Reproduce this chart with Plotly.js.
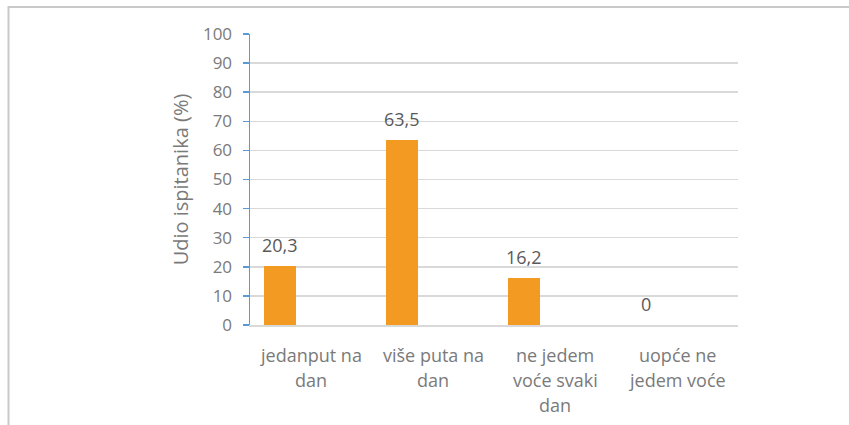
<!DOCTYPE html>
<html>
<head>
<meta charset="utf-8">
<script src="https://cdn.plot.ly/plotly-3.0.1.min.js"></script>
<style>
  html, body { margin: 0; padding: 0; background: #fff; }
  #chart { width: 849px; height: 425px; }
</style>
</head>
<body>
<div id="chart"></div>
<script>
// ---- data ----
const categories = ['jedanput na dan', 'više puta na dan', 'ne jedem voće svaki dan', 'uopće ne jedem voće'];
const tickLines = [
  ['jedanput na', 'dan'],
  ['više puta na', 'dan'],
  ['ne jedem', 'voće svaki', 'dan'],
  ['uopće ne', 'jedem voće']
];
const values = [20.3, 63.5, 16.2, 0];
const valueLabels = ['20,3', '63,5', '16,2', '0'];
const yTitle = 'Udio ispitanika (%)';

// ---- layout constants ----
const FONT = '"Open Sans", sans-serif';
const barWidth = 0.262;
const barOffset = -0.385;
const W = 849, H = 425;
const mL = 250, mR = 111, mT = 34, mB = 100;
const plotW = W - mL - mR, plotH = H - mT - mB;

const idx = categories.map((_, i) => i);

const trace = {
  type: 'bar',
  x: idx,
  y: values,
  width: barWidth,
  offset: barOffset,
  marker: { color: '#F29A21' },
  hoverinfo: 'skip',
  showlegend: false
};

const annotations = [];
// data labels
values.forEach((v, i) => {
  annotations.push({
    x: i + barOffset + barWidth / 2, y: v, xref: 'x', yref: 'y',
    text: valueLabels[i], showarrow: false,
    xanchor: 'center', yanchor: 'middle', yshift: 21,
    font: { family: FONT, size: 18, color: '#595959' }
  });
});
// category labels (multi-line)
tickLines.forEach((lines, i) => {
  lines.forEach((ln, j) => {
    annotations.push({
      x: i, y: 0, xref: 'x', yref: 'paper',
      text: ln, showarrow: false,
      xanchor: 'center', yanchor: 'middle', yshift: -30 - j * 25,
      font: { family: FONT, size: 18, color: '#7a7a7a' }
    });
  });
});

const layout = {
  width: W, height: H,
  margin: { l: mL, r: mR, t: mT, b: mB, pad: 0 },
  paper_bgcolor: '#ffffff',
  plot_bgcolor: '#ffffff',
  font: { family: FONT, color: '#7a7a7a' },
  xaxis: {
    range: [-0.5, categories.length - 0.5],
    showticklabels: false, ticks: '', showgrid: false, zeroline: false,
    showline: true, linecolor: '#d9d9d9', linewidth: 1.5,
    fixedrange: true
  },
  yaxis: {
    range: [0, 100], dtick: 10, tick0: 0,
    showgrid: true, gridcolor: '#d9d9d9', gridwidth: 1.5,
    zeroline: false,
    showline: true, linecolor: '#5B9BD5', linewidth: 1.5,
    ticks: 'outside', ticklen: 6, tickcolor: '#5B9BD5', tickwidth: 1.5,
    ticklabelstandoff: 7,
    tickfont: { family: FONT, size: 17, color: '#7a7a7a' },
    title: { text: yTitle, font: { family: FONT, size: 20, color: '#7a7a7a' }, standoff: 9 },
    fixedrange: true
  },
  shapes: [{
    type: 'rect', xref: 'paper', yref: 'paper', layer: 'below',
    x0: (8.5 - mL) / plotW, x1: 2,
    y0: -2, y1: (H - mB - 7) / plotH,
    line: { color: '#c9c9c9', width: 2 }, fillcolor: 'rgba(0,0,0,0)'
  }],
  annotations: annotations,
  bargap: 0
};

Plotly.newPlot('chart', [trace], layout, { displayModeBar: false, staticPlot: true });
</script>
</body>
</html>
